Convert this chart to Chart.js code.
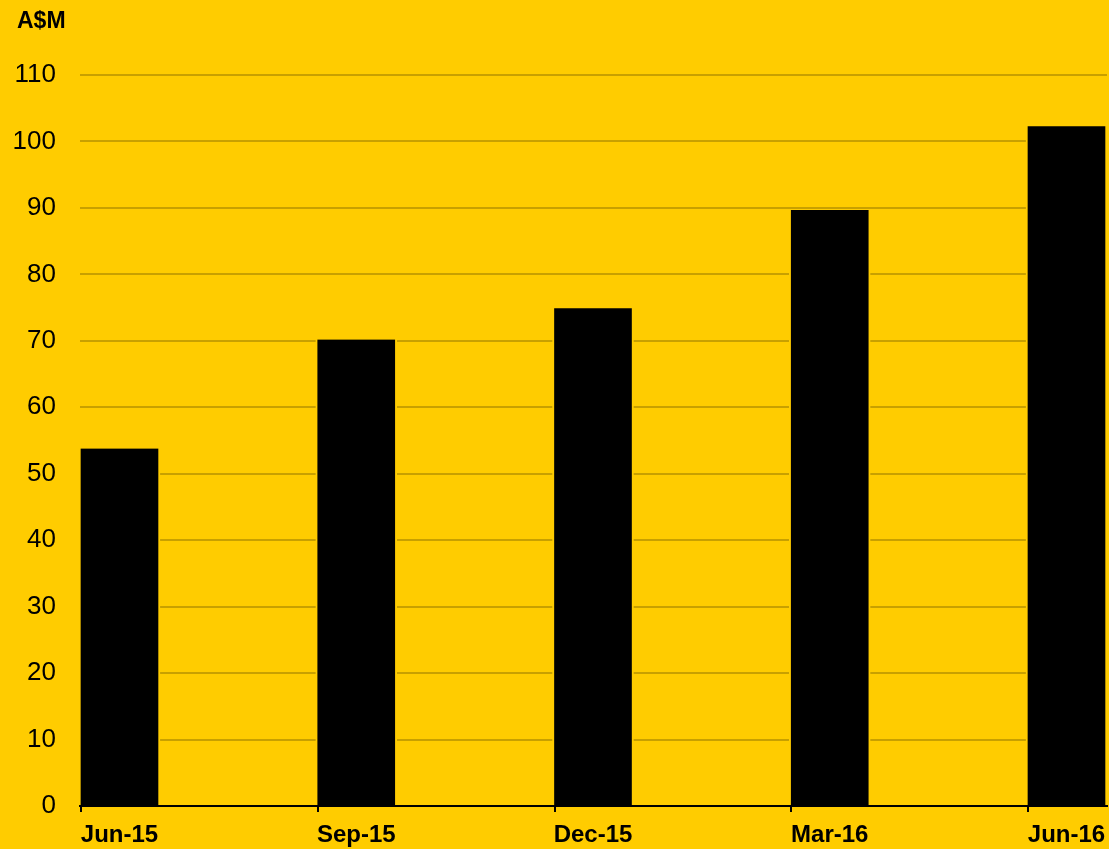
<!DOCTYPE html>
<html>
<head>
<meta charset="utf-8">
<script src="https://cdn.jsdelivr.net/npm/chart.js@4.4.1/dist/chart.umd.min.js"></script>
<style>
  html, body { margin: 0; padding: 0; background: #FFCC00; }
  #wrap { width: 1109px; height: 849px; position: relative; }
</style>
</head>
<body>
<div id="wrap"><canvas id="chart"></canvas></div>
<script>
// 数据
const categories = ['Jun-15', 'Sep-15', 'Dec-15', 'Mar-16', 'Jun-16'];
const values = [53.8, 70.2, 74.9, 89.7, 102.3];
const yTicks = [0, 10, 20, 30, 40, 50, 60, 70, 80, 90, 100, 110];
const unitLabel = 'A$M';

const FONT = "'Liberation Sans', Arial, sans-serif";
const YELLOW = '#FFCC00';
const BAR_PX = 81;      // bar incl. yellow side borders
const HALF = 0.1668;    // half bar width in axis units

// 背景和单位标签
const decor = {
    id: 'decor',
    beforeDraw(chart) {
        const c = chart.ctx;
        c.save();
        c.fillStyle = YELLOW;
        c.fillRect(0, 0, chart.width, chart.height);
        c.restore();
    },
    afterDraw(chart) {
        const c = chart.ctx;
        const x = chart.scales.x;
        const bottom = chart.chartArea.bottom;
        c.save();
        // tick marks at left edge of each bar
        c.strokeStyle = '#000';
        c.lineWidth = 2;
        categories.forEach(function(_, i) {
            const px = Math.round(x.getPixelForValue(i - HALF)) + 1;
            c.beginPath();
            c.moveTo(px, bottom);
            c.lineTo(px, bottom + 6);
            c.stroke();
        });
        c.fillStyle = '#000';
        c.font = 'bold 23px ' + FONT;
        c.textBaseline = 'alphabetic';
        c.fillText(unitLabel, 17, 28);
        c.restore();
    }
};

new Chart(document.getElementById('chart'), {
    type: 'bar',
    data: {
        datasets: [{
            data: values.map(function(v, i) { return { x: i, y: v }; }),
            backgroundColor: '#000000',
            borderColor: YELLOW,
            borderWidth: { left: 2, right: 2, top: 0, bottom: 0 },
            borderSkipped: false,
            barThickness: BAR_PX
        }]
    },
    options: {
        responsive: true,
        maintainAspectRatio: false,
        animation: false,
        layout: { padding: { top: 75, right: 2, bottom: 0, left: 0 } },
        plugins: { legend: { display: false }, tooltip: { enabled: false } },
        scales: {
            x: {
                type: 'linear',
                offset: false,
                min: -HALF,
                max: 1027 / 236.75 - HALF,
                afterBuildTicks: function(scale) {
                    scale.ticks = categories.map(function(_, i) { return { value: i }; });
                },
                afterFit: function(scale) {
                    scale.height = 43;
                    scale.paddingLeft = 0;
                    scale.paddingRight = 0;
                },
                grid: { display: false, drawTicks: false, offset: false },
                border: { display: true, color: '#000', width: 2 },
                ticks: {
                    autoSkip: false,
                    maxRotation: 0,
                    padding: 15,
                    color: '#000',
                    font: { family: FONT, size: 24, weight: 'bold' },
                    callback: function(v) { return categories[v]; }
                }
            },
            y: {
                min: 0,
                max: 110,
                afterBuildTicks: function(scale) {
                    scale.ticks = yTicks.map(function(v) { return { value: v }; });
                },
                afterFit: function(scale) { scale.width = 80; },
                grid: {
                    color: function(ctx) { return ctx.tick && ctx.tick.value === 0 ? 'rgba(0,0,0,0)' : '#C8A000'; },
                    lineWidth: 2,
                    drawTicks: false
                },
                border: { display: false },
                ticks: {
                    padding: 24,
                    color: '#000',
                    font: { family: FONT, size: 26 }
                }
            }
        }
    },
    plugins: [decor]
});
</script>
</body>
</html>
